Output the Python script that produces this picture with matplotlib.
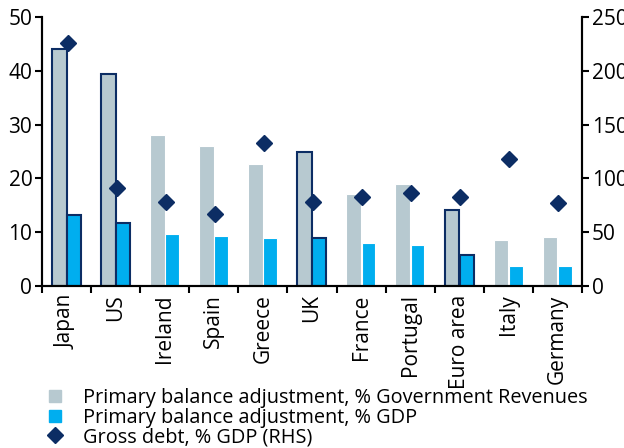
import numpy as np
import matplotlib
matplotlib.use("Agg")
from matplotlib import pyplot as plt
from matplotlib.lines import Line2D

plt.rcParams['font.family'] = ['Open Sans', 'DejaVu Sans']

countries = ['Japan', 'US', 'Ireland', 'Spain', 'Greece', 'UK', 'France',
             'Portugal', 'Euro area', 'Italy', 'Germany']
adj_revenues = [44.0, 39.4, 28.0, 26.0, 22.7, 25.0, 17.1, 19.0, 14.2, 8.6, 9.2]
adj_gdp = [13.2, 11.8, 9.6, 9.3, 8.9, 8.9, 8.0, 7.6, 5.8, 3.7, 3.7]
gross_debt = [226, 91, 78, 67, 133, 78, 83, 86, 83, 118, 77]
outlined = ['Japan', 'US', 'UK', 'Euro area']

grey = '#b7c9d0'
blue = '#00aeef'
navy = '#0c2d64'

fig = plt.figure(figsize=(6.24, 4.48), dpi=100)
ax = fig.add_axes([0.0673, 0.3616, 0.8654, 0.6004])
ax2 = ax.twinx()

x = np.arange(len(countries)) + 0.5
for i, c in enumerate(countries):
    if c in outlined:
        ec, lw = navy, 1.5
    else:
        ec, lw = 'white', 0.8
    ax.bar(x[i] - 0.15, adj_revenues[i], width=0.3, color=grey, edgecolor=ec, linewidth=lw, zorder=2)
    ax.bar(x[i] + 0.15, adj_gdp[i], width=0.28, color=blue, edgecolor=ec, linewidth=lw, zorder=2)

ax2.plot(x + 0.02, gross_debt, linestyle='none', marker='D', markersize=8, color=navy, zorder=3)

ax.set_xlim(0, len(countries))
ax.set_ylim(0, 50)
ax2.set_ylim(0, 250)
ax.set_yticks(range(0, 51, 10))
ax2.set_yticks(range(0, 251, 50))

ax.set_xticks(np.arange(len(countries) + 1))
ax.set_xticklabels([])
ax.set_xticks(x, minor=True)
ax.set_xticklabels(countries, minor=True, rotation=90, fontsize=15)
ax.tick_params(axis='x', which='minor', length=0, pad=6)
ax.tick_params(axis='x', which='major', length=5, width=1.5, direction='out')
ax.tick_params(axis='y', length=5, width=1.5, labelsize=15, pad=2)
ax2.tick_params(axis='y', length=5, width=1.5, labelsize=15, pad=2)

for a in (ax, ax2):
    a.spines['top'].set_visible(False)
    for s in ('left', 'right', 'bottom'):
        a.spines[s].set_linewidth(1.5)

handles = [
    Line2D([], [], linestyle='none', marker='s', markersize=8, color=grey),
    Line2D([], [], linestyle='none', marker='s', markersize=8, color=blue),
    Line2D([], [], linestyle='none', marker='D', markersize=8, color=navy),
]
labels = ['Primary balance adjustment, % Government Revenues',
          'Primary balance adjustment, % GDP',
          'Gross debt, % GDP (RHS)']
fig.legend(handles, labels, loc='upper left', bbox_to_anchor=(0.075, 0.133),
           frameon=False, fontsize=14.3, handlelength=0.8, handletextpad=1.0,
           labelspacing=-0.03, borderpad=0, borderaxespad=0)

fig.savefig('out.png', dpi=100)
